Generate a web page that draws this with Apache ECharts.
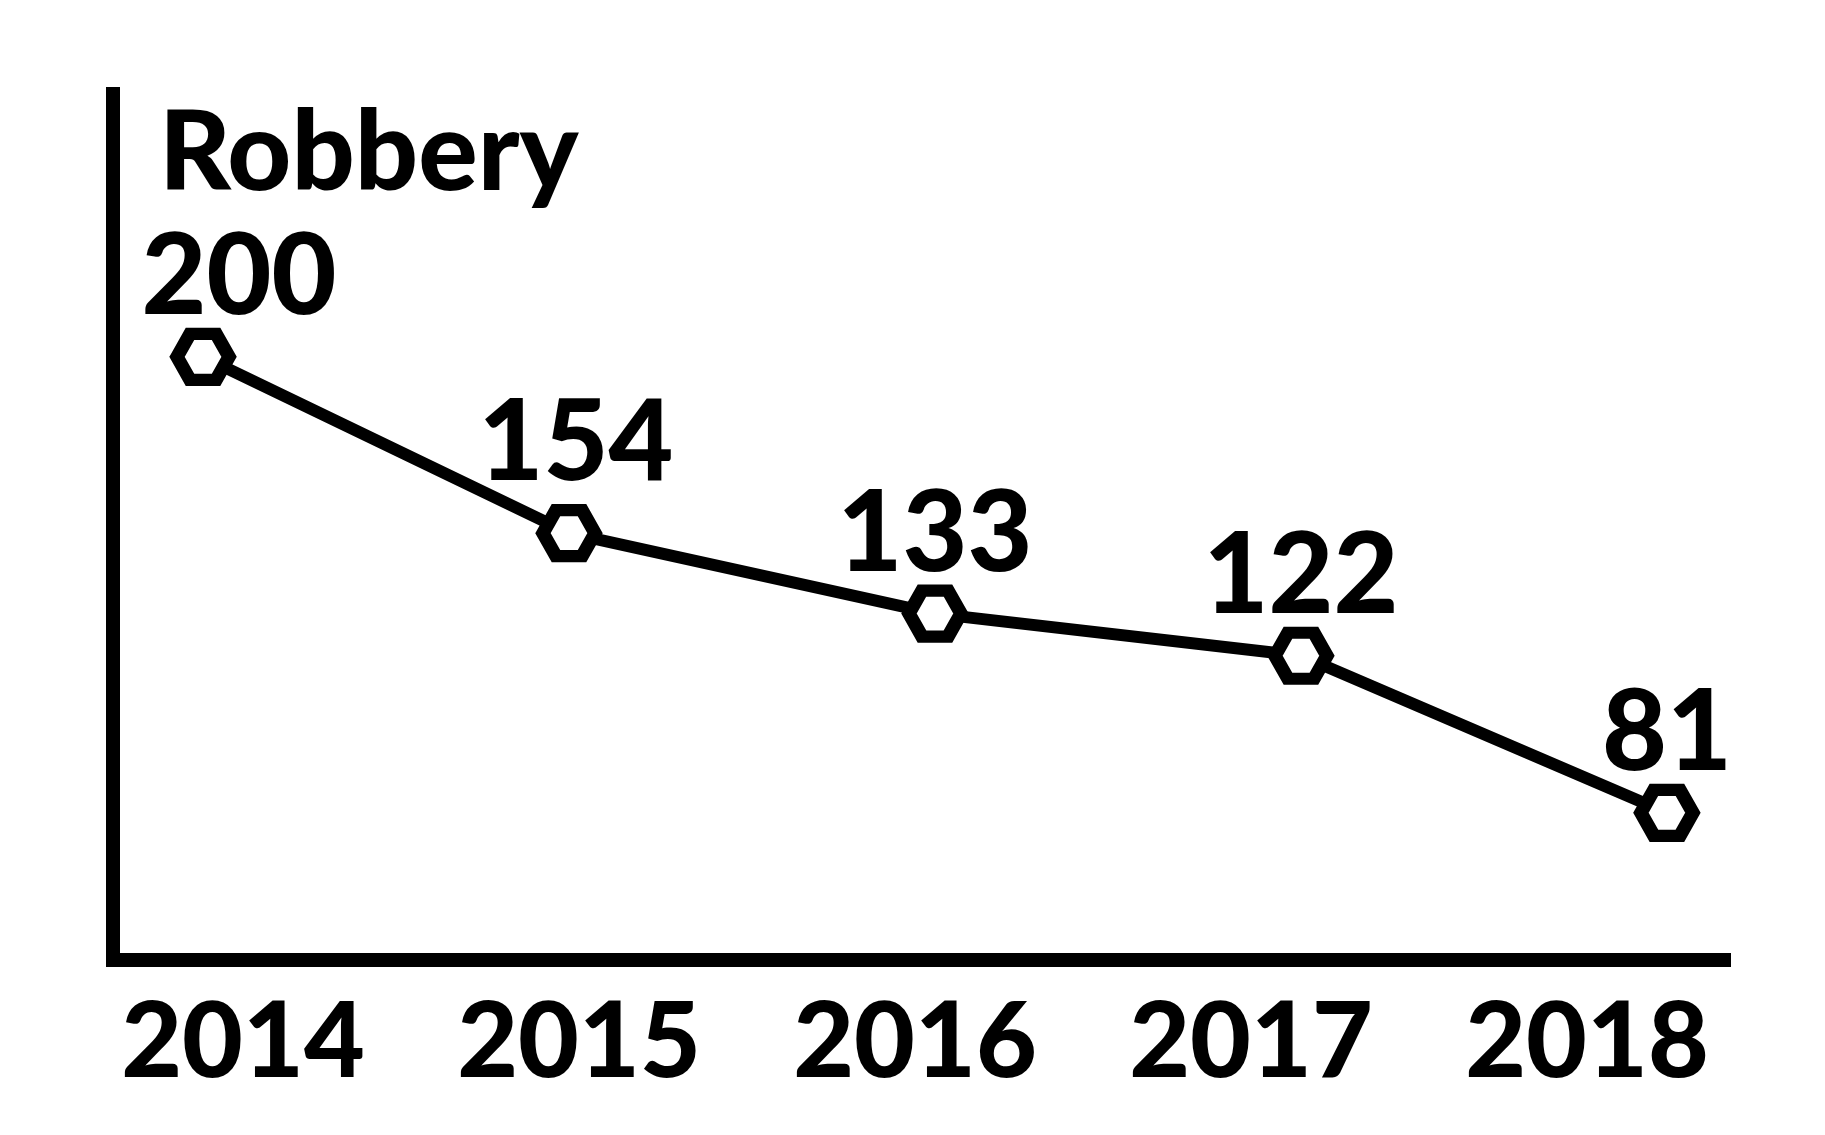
<!DOCTYPE html>
<html><head><meta charset="utf-8">
<script src="https://cdn.jsdelivr.net/npm/echarts@6/dist/echarts.min.js"></script>
<style>html,body{margin:0;padding:0;background:#fff}#c{width:1825px;height:1135px}</style>
</head><body><div id="c"></div>
<script>
const chartTitle = 'Robbery';
const years = ['2014', '2015', '2016', '2017', '2018'];
const robbery = [200, 154, 133, 122, 81];

const FONT = 'Lato';
const chart = echarts.init(document.getElementById('c'), null, { renderer: 'canvas' });
const hex = 'path://M-1,0L-0.5,-0.866L0.5,-0.866L1,0L0.5,0.866L-0.5,0.866Z';
const axisLineStyle = { color: '#000', width: 14, cap: 'square' };
const labelOffsets = { 0: [36, 0], 1: [7, -10] };

const option = {
  backgroundColor: '#fff',
  animation: false,
  title: {
    text: chartTitle, left: 154, top: 94,
    textStyle: { fontFamily: FONT, fontWeight: 900, fontSize: 111, color: '#000' }
  },
  grid: [
    { left: 113, right: 101, top: 94, bottom: 175 },
    { left: 243, right: 238, top: 94, bottom: 175 }
  ],
  xAxis: [
    { type: 'value', gridIndex: 0, min: 2013.754, max: 2018.156,
      axisLine: { show: true, onZero: false, lineStyle: axisLineStyle },
      axisTick: { show: false }, axisLabel: { show: false }, splitLine: { show: false } },
    { type: 'category', gridIndex: 1, data: years, boundaryGap: false,
      axisLine: { show: false }, axisTick: { show: false }, splitLine: { show: false },
      axisLabel: { show: true, margin: 31, fontFamily: FONT, fontWeight: 900, fontSize: 105, color: '#000', interval: 0 } }
  ],
  yAxis: [
    { type: 'value', gridIndex: 0, min: 42.6, max: 268.6,
      axisLine: { show: true, onZero: false, lineStyle: axisLineStyle },
      axisTick: { show: false }, axisLabel: { show: false }, splitLine: { show: false } },
    { type: 'value', gridIndex: 1, show: false }
  ],
  series: [{
    type: 'line', xAxisIndex: 0, yAxisIndex: 0,
    data: years.map((y, i) => {
      const d = { value: [Number(y), robbery[i]] };
      if (labelOffsets[i]) d.label = { offset: labelOffsets[i] };
      return d;
    }),
    lineStyle: { color: '#000', width: 12 },
    symbol: hex, symbolSize: [52, 46],
    itemStyle: { color: '#fff', borderColor: '#000', borderWidth: 13 },
    label: {
      show: true, position: 'top', distance: -6,
      formatter: p => p.value[1],
      fontFamily: FONT, fontWeight: 900, fontSize: 112, color: '#000'
    },
    emphasis: { disabled: true }
  }]
};
chart.setOption(option);
</script></body></html>
